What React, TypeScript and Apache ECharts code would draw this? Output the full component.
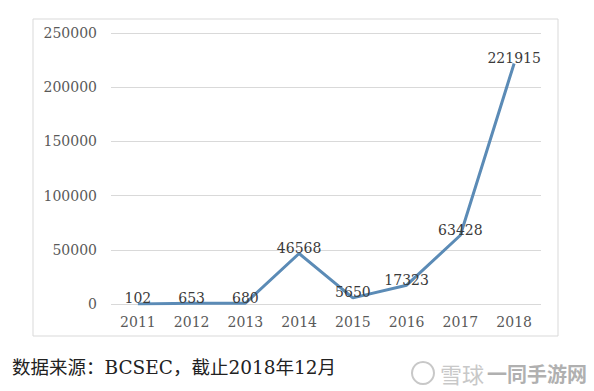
import React, { useEffect, useRef } from "react";
import * as echarts from "echarts";

const years = ["2011", "2012", "2013", "2014", "2015", "2016", "2017", "2018"];
const values = [102, 653, 680, 46568, 5650, 17323, 63428, 221915];
const yTicks = [0, 50000, 100000, 150000, 200000, 250000];
const caption = "数据来源：BCSEC，截止2018年12月";
const watermarkA = "雪球";
const watermarkB = "一同手游网";

export default function App() {
  const ref = useRef<HTMLDivElement>(null);
  useEffect(() => {
    document.body.style.margin = "0";
    const chart = echarts.init(ref.current!, null, { renderer: "svg" });
    chart.setOption({
      animation: false,
      backgroundColor: "#ffffff",
      grid: { left: 111, right: 53, top: 33, bottom: 87 },
      xAxis: {
        type: "category",
        data: years,
        boundaryGap: true,
        axisLine: { show: false },
        axisTick: { show: false },
        axisLabel: {
          color: "#595959",
          fontFamily: "DejaVu Serif",
          fontSize: 14,
          margin: 11,
        },
      },
      yAxis: {
        type: "value",
        min: yTicks[0],
        max: yTicks[yTicks.length - 1],
        interval: 50000,
        axisLine: { show: false },
        axisTick: { show: false },
        splitLine: { lineStyle: { color: "#d9d9d9", width: 1 } },
        axisLabel: {
          color: "#595959",
          fontFamily: "DejaVu Serif",
          fontSize: 14,
          margin: 14,
          formatter: (v: number) => String(v),
        },
      },
      series: [
        {
          type: "line",
          data: values,
          symbol: "circle",
          symbolSize: 1,
          showSymbol: true,
          itemStyle: { color: "rgba(0,0,0,0)" },
          lineStyle: { color: "#5b8bb6", width: 3 },
          label: {
            show: true,
            position: "top",
            distance: -2,
            color: "#3a3a3a",
            fontFamily: "DejaVu Serif",
            fontSize: 14,
          },
        },
      ],
      graphic: [
        {
          type: "rect",
          shape: { x: 33, y: 19, width: 525, height: 317 },
          style: { fill: "none", stroke: "#d9d9d9", lineWidth: 1 },
          silent: true,
        },
        {
          type: "text",
          x: 12,
          y: 367,
          style: {
            text: caption,
            fontFamily: "DejaVu Serif, Noto Sans CJK SC",
            fontSize: 18.5,
            fill: "#222222",
            verticalAlign: "middle",
          },
        },
        {
          type: "ring",
          shape: { cx: 423, cy: 373, r: 12, r0: 10 },
          style: { fill: "#c8c8c8" },
        },
        {
          type: "text",
          x: 440,
          y: 373,
          style: {
            text: watermarkA,
            fontFamily: "Noto Sans CJK SC",
            fontSize: 22,
            fill: "#c8c8c8",
            verticalAlign: "middle",
          },
        },
        {
          type: "text",
          x: 487,
          y: 373,
          style: {
            text: watermarkB,
            fontFamily: "Noto Sans CJK SC",
            fontSize: 20,
            fontWeight: "bold",
            fill: "#b0b0b0",
            verticalAlign: "middle",
          },
        },
      ],
    });
    return () => chart.dispose();
  }, []);
  return (
    <div
      ref={ref}
      style={{ position: "fixed", left: 0, top: 0, width: 594, height: 391 }}
    />
  );
}
